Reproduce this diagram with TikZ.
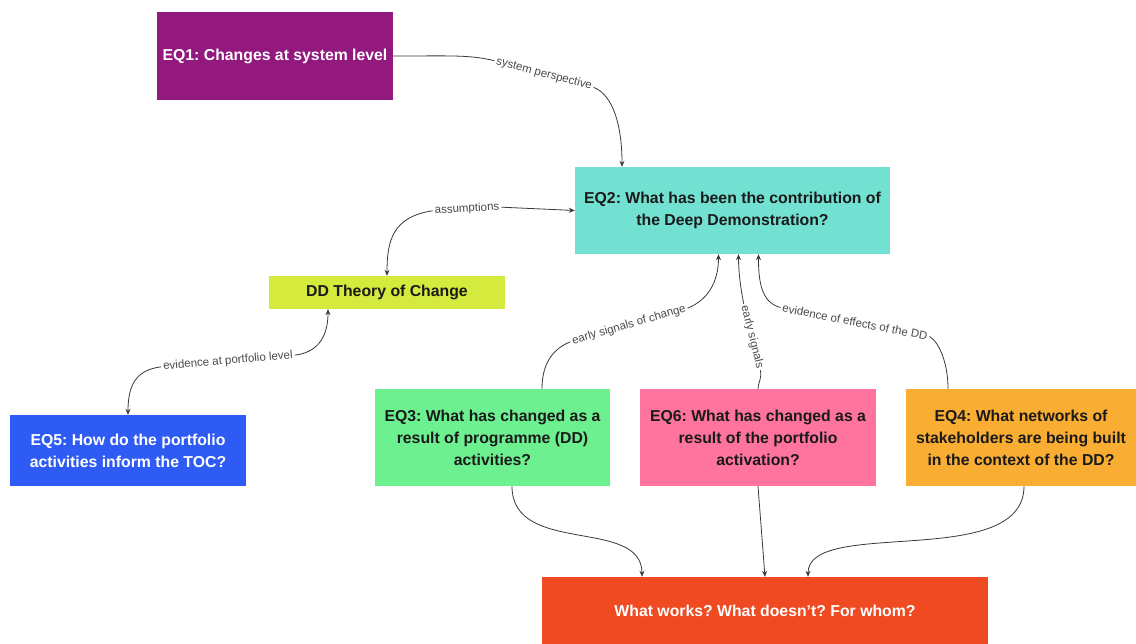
\documentclass[tikz,border=0pt]{standalone}
\usepackage{fontspec}
\setmainfont{Liberation Sans}
\usetikzlibrary{arrows.meta}
\definecolor{cpurple}{HTML}{93197F}
\definecolor{cteal}{HTML}{72E1D1}
\definecolor{clime}{HTML}{D4EA3C}
\definecolor{cblue}{HTML}{2E5BF3}
\definecolor{cgreen}{HTML}{6DF08F}
\definecolor{cpink}{HTML}{FF739F}
\definecolor{corange}{HTML}{F9AD33}
\definecolor{cred}{HTML}{F04A22}
\definecolor{dtext}{HTML}{1A1A1A}
\definecolor{lncol}{HTML}{3A3A3A}
\definecolor{lbltext}{HTML}{4A4A4A}
\frenchspacing
\begin{document}
\begin{tikzpicture}[x=1pt,y=-1pt,
  box/.style={draw=none, inner sep=0pt, align=center, text=dtext,
    font=\bfseries\fontsize{15.8}{22}\selectfont},
  wbox/.style={box, text=white},
  lbl/.style={font=\fontsize{11.5}{13}\selectfont, text=lbltext, fill=white, inner sep=2pt},
  ln/.style={draw=lncol, line width=0.8pt},
  arr/.style={ln, -{Stealth[length=6pt,width=5pt]}}]
\useasboundingbox (0,0) rectangle (1136,644);
\fill[white] (0,0) rectangle (1136,644);

% boxes
\node[wbox, fill=cpurple, minimum width=236pt, minimum height=88pt] (eq1) at (275,56) {EQ1: Changes at system level};
\node[box, fill=cteal, minimum width=315pt, minimum height=87pt] (eq2) at (732.5,210.5) {EQ2: What has been the contribution of\\the Deep Demonstration?};
\node[box, fill=clime, minimum width=236pt, minimum height=33pt] (toc) at (387,292.5) {DD Theory of Change};
\node[wbox, fill=cblue, minimum width=236pt, minimum height=71pt] (eq5) at (128,450.5) {EQ5: How do the portfolio\\activities inform the TOC?};
\node[box, fill=cgreen, minimum width=235pt, minimum height=97pt] (eq3) at (492.5,437.5) {EQ3: What has changed as a\\result of programme (DD)\\activities?};
\node[box, fill=cpink, minimum width=236pt, minimum height=97pt] (eq6) at (758,437.5) {EQ6: What has changed as a\\result of the portfolio\\activation?};
\node[box, fill=corange, minimum width=230pt, minimum height=97pt] (eq4) at (1021,437.5) {EQ4: What networks of\\stakeholders are being built\\in the context of the DD?};
\node[wbox, fill=cred, minimum width=446pt, minimum height=67pt] (bot) at (765,610.5) {What works? What doesn't? For whom?};

% labels
\node[lbl, rotate=-15] (l1) at (544,74) {system perspective};
\node[lbl, rotate=3] (l2) at (467,209) {assumptions};
\node[lbl, rotate=5] (l3) at (228,361) {evidence at portfolio level};
\node[lbl, rotate=16] (l4) at (629,325) {early signals of change};
\node[lbl, rotate=-76] (l5) at (752,337) {early signals};
\node[lbl, rotate=-11] (l6) at (855,322) {evidence of effects of the DD};

% connectors
\draw[ln] (eq1.east) .. controls +(60,0) and +(-25,-6) .. (l1.west);
\draw[arr] (l1.east) .. controls +(20,8) and +(0,-40) .. ([xshift=-110.5pt]eq2.north);

\draw[arr] (l2.east) -- (eq2.west);
\draw[arr] (l2.west) .. controls +(-40,6) and +(0,-35) .. (toc.north);

\draw[arr] (l3.east) .. controls +(25,-3) and +(0,25) .. ([xshift=-59pt]toc.south);
\draw[arr] (l3.west) .. controls +(-25,3) and +(0,-30) .. (eq5.north);

\draw[ln] ([xshift=49.5pt]eq3.north) .. controls +(0,-28) and +(-15,6) .. (l4.west);
\draw[arr] (l4.east) .. controls +(20,-8) and +(0,28) .. ([xshift=-14pt]eq2.south);

\draw[ln] (eq6.north) .. controls +(0,-6) and +(2,8) .. (l5.east);
\draw[arr] (l5.west) .. controls +(-3,-15) and +(0,18) .. ([xshift=6pt]eq2.south);

\draw[ln] ([xshift=-73pt]eq4.north) .. controls +(0,-25) and +(10,6) .. (l6.east);
\draw[arr] (l6.west) .. controls +(-20,-5) and +(0,25) .. ([xshift=26pt]eq2.south);

\draw[arr] ([xshift=19.5pt]eq3.south) .. controls +(0,70) and +(0,-60) .. ([xshift=-123pt]bot.north);
\draw[arr] (eq6.south) -- (bot.north);
\draw[arr] ([xshift=3pt]eq4.south) .. controls +(0,85) and +(0,-60) .. ([xshift=43pt]bot.north);
\end{tikzpicture}
\end{document}
